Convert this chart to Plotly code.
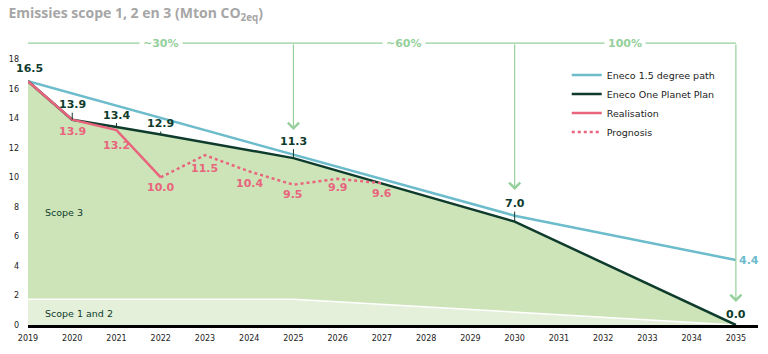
import plotly.graph_objects as go

# ---- data ----
years = list(range(2019, 2036))
path15_x = [2019, 2030, 2035]
path15_y = [16.5, 7.4, 4.4]
plan_x = [2019, 2020, 2021, 2022, 2025, 2030, 2035]
plan_y = [16.5, 13.9, 13.4, 12.9, 11.3, 7.0, 0.0]
real_x = [2019, 2020, 2021, 2022]
real_y = [16.5, 13.9, 13.2, 10.0]
prog_x = [2022, 2023, 2024, 2025, 2026, 2027]
prog_y = [10.0, 11.5, 10.4, 9.5, 9.9, 9.6]
scope12_x = [2019, 2025, 2035]
scope12_y = [1.75, 1.75, 0.0]
milestones_x = [2019, 2025, 2030, 2035]
milestone_labels = ["~30%", "~60%", "100%"]
y_ticks = [0, 2, 4, 6, 8, 10, 12, 14, 16, 18]

C_BLUE = "#6cbccb"
C_DARK = "#0e3b2c"
C_PINK = "#e8657d"
C_FILL3 = "#cde4b9"
C_FILL12 = "#e4f0da"
C_BRACKET = "#95d09c"
FONT = "DejaVu Sans"

fig = go.Figure()

# Scope 3 area (under plan)
fig.add_trace(go.Scatter(x=plan_x, y=plan_y, mode="lines", line=dict(width=0),
                         fill="tozeroy", fillcolor=C_FILL3, showlegend=False, hoverinfo="skip"))
# Scope 1 and 2 area
fig.add_trace(go.Scatter(x=scope12_x, y=scope12_y, mode="lines", line=dict(width=1.5, color="white"),
                         fill="tozeroy", fillcolor=C_FILL12, showlegend=False, hoverinfo="skip"))

fig.add_trace(go.Scatter(x=path15_x, y=path15_y, mode="lines", name="Eneco 1.5 degree path",
                         line=dict(color=C_BLUE, width=2.5), legendrank=1))
fig.add_trace(go.Scatter(x=plan_x, y=plan_y, mode="lines", name="Eneco One Planet Plan",
                         line=dict(color=C_DARK, width=2.5), legendrank=2))
fig.add_trace(go.Scatter(x=prog_x, y=prog_y, mode="lines", name="Prognosis",
                         line=dict(color=C_PINK, width=2.5, dash="dot"), legendrank=4))
fig.add_trace(go.Scatter(x=real_x, y=real_y, mode="lines", name="Realisation",
                         line=dict(color=C_PINK, width=2.5), legendrank=3))

ann = []
# plan labels (dark, above, with tick)
plan_offsets = {2019: (13, False), 2020: (15, True), 2021: (12, True), 2022: (11, True),
                2025: (17, True), 2030: (18, True), 2035: (11, False)}
for x, y in zip(plan_x, plan_y):
    off, tick = plan_offsets[x]
    if tick:
        ann.append(dict(x=x, y=y, text=f"<b>{y:.1f}</b>", showarrow=True, arrowhead=0,
                        arrowwidth=1, arrowcolor=C_DARK, ax=0, ay=-off, standoff=0,
                        font=dict(family=FONT, size=11, color=C_DARK)))
    else:
        ann.append(dict(x=x, y=y, text=f"<b>{y:.1f}</b>", showarrow=False, yshift=off,
                        xshift=1 if x == 2019 else 0,
                        font=dict(family=FONT, size=11, color=C_DARK)))
# realisation / prognosis labels (pink, below)
real_offsets = {2020: 12, 2021: 15}
for x, y in zip(real_x[1:], real_y[1:]):
    off = real_offsets.get(x, 10)
    ann.append(dict(x=x, y=y, text=f"<b>{y:.1f}</b>", showarrow=False, yshift=-off,
                    font=dict(family=FONT, size=11, color=C_PINK)))
prog_offsets = {2023: 13, 2024: 12, 2025: 10, 2026: 9, 2027: 10}
for x, y in zip(prog_x[1:], prog_y[1:]):
    ann.append(dict(x=x, y=y, text=f"<b>{y:.1f}</b>", showarrow=False, yshift=-prog_offsets[x],
                    font=dict(family=FONT, size=11, color=C_PINK)))
# 1.5 path end label
ann.append(dict(x=path15_x[-1], y=path15_y[-1], text=f"<b>{path15_y[-1]:.1f}</b>", showarrow=False,
                xanchor="left", xshift=1, font=dict(family=FONT, size=11, color=C_BLUE)))

# scope labels
ann.append(dict(x=2019.35, y=7.6, text="Scope 3", showarrow=False, xanchor="left",
                font=dict(family=FONT, size=9.5, color=C_DARK)))
ann.append(dict(x=2019.35, y=0.8, text="Scope 1 and 2", showarrow=False, xanchor="left",
                font=dict(family=FONT, size=9.5, color=C_DARK)))

# milestone bracket
BR_Y = 19.09
shapes = [dict(type="line", xref="x", yref="y", x0=milestones_x[0], x1=milestones_x[-1],
               y0=BR_Y, y1=BR_Y, line=dict(color=C_BRACKET, width=1.2))]
for i, lab in enumerate(milestone_labels):
    xm = (milestones_x[i] + milestones_x[i + 1]) / 2
    ann.append(dict(x=xm, y=BR_Y, text=f"<b>{lab}</b>", showarrow=False, bgcolor="white",
                    borderpad=3, font=dict(family=FONT, size=11, color=C_BRACKET)))
arrow_tips = {2025: 13.2, 2030: 9.14, 2035: 1.56}
for x in milestones_x[1:]:
    ann.append(dict(x=x, y=arrow_tips[x], ax=x, ay=BR_Y, axref="x", ayref="y", text="",
                    showarrow=True, arrowhead=4, arrowsize=1.8, arrowwidth=1.2,
                    arrowcolor=C_BRACKET))

fig.update_layout(
    width=768, height=354,
    margin=dict(l=28, r=10, t=37, b=29),
    paper_bgcolor="white", plot_bgcolor="white",
    font=dict(family=FONT, size=8, color="#222222"),
    title=dict(text="<b>Emissies scope 1, 2 en 3 (Mton CO<sub>2eq</sub>)</b>",
               x=0.011, xanchor="left", xref="container", y=0.962, yanchor="middle",
               font=dict(family="Open Sans", size=14, color="#a6a6a6")),
    showlegend=True,
    legend=dict(x=0.738, y=0.918, xanchor="left", yanchor="top", bgcolor="rgba(0,0,0,0)",
                font=dict(family=FONT, size=9.5, color="#222222"), tracegroupgap=0),
    annotations=ann, shapes=shapes,
)
fig.update_xaxes(range=[2019, 2035.5], tickvals=years, ticktext=[str(y) for y in years],
                 showgrid=False, zeroline=False, showline=True, linecolor="black", linewidth=3,
                 ticks="", ticklabelstandoff=3,
                 tickfont=dict(size=8, family=FONT, color="#222222"))
fig.update_yaxes(range=[0, 19.5], tickvals=y_ticks, showgrid=False, zeroline=False,
                 showline=False, ticks="", ticklabelstandoff=8,
                 tickfont=dict(size=8, family=FONT, color="#222222"))

fig.write_html("out.html")
